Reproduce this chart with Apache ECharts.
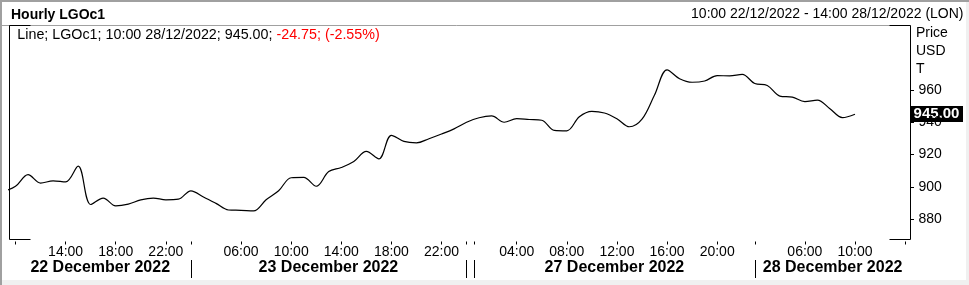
<!DOCTYPE html>
<html><head><meta charset="utf-8">
<script src="https://cdn.jsdelivr.net/npm/echarts@6/dist/echarts.min.js"></script>
<style>html,body{margin:0;padding:0;background:#fff;overflow:hidden}#c{width:969px;height:285px}</style>
</head><body><div id="c"></div>
<script>
// ---- data (slot = hourly bar index, 0 = 10:00 22/12/2022) ----
const slots = [-1,0,1,2,3,4,5,6,7,8,9,10,11,12,13,14,15,16,17,18,19,20,21,22,23,24,25,26,27,28,29,30,31,32,33,34,35,36,37,38,39,40,41,42,43,44,45,46,47,48,49,50,51,52,53,54,55,56,57,58,59,60,61,62,63,64,65,66,67];
const prices = [896.9,900.3,907.5,902.3,903.7,903.0,912.8,889.0,893.0,888.1,889.2,891.9,893.0,891.9,892.3,897.5,893.7,889.7,885.6,885.4,885.0,891.9,897.5,905.6,905.8,900.3,909.4,911.9,915.6,921.9,917.3,931.9,928.1,927.2,929.8,932.7,935.9,940.0,942.8,943.9,940.0,942.2,941.7,941.25,935.0,934.7,943.4,946.75,945.75,942.2,937.2,941.9,956.9,972.5,967.0,964.8,965.6,968.9,968.8,969.7,964.0,962.8,956.25,955.6,952.8,953.75,948.4,942.9,945.0];
const hourTickSlots = [0,4,8,12,14,18,22,26,30,34,35.95,36.6,40,44,48,52,56,59,63,67,71];
const hourLabelSlots = [4,8,12,18,22,26,30,34,40,44,48,52,56,63,67];
const hourLabels = ['14:00','18:00','22:00','06:00','10:00','14:00','18:00','22:00','04:00','08:00','12:00','16:00','20:00','06:00','10:00'];
const dayBoundarySlots = [14,35.95,36.6,59];
const dayLabels = ['22 December 2022','23 December 2022','27 December 2022','28 December 2022'];
const priceTicks = [880,900,920,940,960];
const lastPrice = 945.00;
const titleText = 'Hourly LGOc1';
const rangeText = '10:00 22/12/2022 - 14:00 28/12/2022 (LON)';
const legendBlack = 'Line; LGOc1; 10:00 28/12/2022; 945.00; ';
const legendRed = '-24.75; (-2.55%)';
const unitLabels = ['Price','USD','T'];

// ---- chart ----
const F = '"Liberation Sans", Arial, sans-serif';
const xMin = -0.479, xMax = 71.43;
const yMin = 867.29, yMax = 1000;
const chart = echarts.init(document.getElementById('c'), null, {renderer:'canvas'});
chart.setOption({
  animation:false,
  backgroundColor:'#ffffff',
  grid:{left:9.5, right:58.5, top:25.5, bottom:45.5},
  xAxis:{
    type:'value', min:xMin, max:xMax, offset:2,
    axisLine:{show:false, onZero:false}, splitLine:{show:false},
    axisTick:{show:true, customValues:hourTickSlots, length:3, lineStyle:{color:'#000', width:1}},
    axisLabel:{show:true, customValues:hourLabelSlots, margin:4, color:'#000', fontSize:14, fontFamily:F,
      formatter:function(v){const i=hourLabelSlots.indexOf(v);return i>=0?hourLabels[i]:'';}}
  },
  yAxis:{
    type:'value', position:'right', min:yMin, max:yMax,
    axisLine:{show:false, onZero:false}, splitLine:{show:false},
    axisTick:{show:true, customValues:priceTicks, length:3.5, lineStyle:{color:'#000'}},
    axisLabel:{show:true, customValues:priceTicks, margin:8, color:'#000', fontSize:14, fontFamily:F}
  },
  series:[{
    type:'line', data:slots.map((s,i)=>[s,prices[i]]), showSymbol:false, smooth:0.35,
    lineStyle:{color:'#000', width:1.2}, clip:true
  }]
});

const px = v => chart.convertToPixel({xAxisIndex:0}, v);
const py = v => chart.convertToPixel({yAxisIndex:0}, v);
const L = 9.5, R = 910.5, T = 25.5, B = 239.5;
const g = [];
function line(x1,y1,x2,y2,color,w){g.push({type:'line',silent:true,shape:{x1,y1,x2,y2},style:{stroke:color,lineWidth:w||1}});}
// outer frame
g.push({type:'rect',silent:true,shape:{x:0,y:280,width:969,height:5},style:{fill:'#f0f0f0'}});
g.push({type:'rect',silent:true,shape:{x:966,y:0,width:3,height:285},style:{fill:'#f0f0f0'}});
line(0,1,969,1,'#a0a0a0',2);
line(1,0,1,285,'#a0a0a0',2);
// header separator
line(2,T,R,T,'#a0a0a0',1);
// plot frame
line(L,T,L,B,'#000'); line(R,T,R,B,'#000');
line(L,T,L+21,T,'#000'); line(R-21,T,R,T,'#000');
line(L,B,L+21,B,'#000'); line(R-21,B,R,B,'#000');
// texts
g.push({type:'text',silent:true,style:{x:11,y:15,text:titleText,font:'bold 14px '+F,fill:'#000',textVerticalAlign:'middle'}});
g.push({type:'text',silent:true,style:{x:963.5,y:14.5,text:rangeText,font:'14px '+F,fill:'#000',textAlign:'right',textVerticalAlign:'middle'}});
g.push({type:'text',silent:true,style:{x:17.3,y:35.5,text:'{a|'+legendBlack+'}{b|'+legendRed+'}',textVerticalAlign:'middle',
  rich:{a:{fill:'#000',font:'14.3px '+F},b:{fill:'#ff0000',font:'14.3px '+F}}}});
const unitY=[33.5,51.5,69.5];
unitLabels.forEach((t,i)=>g.push({type:'text',silent:true,style:{x:916,y:unitY[i],text:t,font:'14px '+F,fill:'#000',textVerticalAlign:'middle'}}));
// last price box
const ly = Math.round(py(lastPrice));
g.push({type:'rect',silent:true,shape:{x:910.5,y:ly-8,width:52.5,height:16},style:{fill:'#000'}});
g.push({type:'text',silent:true,style:{x:936.5,y:ly,text:lastPrice.toFixed(2),font:'bold 15px '+F,fill:'#fff',textAlign:'center',textVerticalAlign:'middle'}});
// day separators and labels
const bpx = dayBoundarySlots.map(s=>Math.round(px(s))+0.5);
bpx.forEach(x=>line(x,260,x,278,'#000'));
const spans = [[xMin,dayBoundarySlots[0]],[dayBoundarySlots[0],dayBoundarySlots[1]],[dayBoundarySlots[2],dayBoundarySlots[3]],[dayBoundarySlots[3],xMax]];
spans.forEach((sp,i)=>{
  const cx=(px(sp[0])+px(sp[1]))/2;
  g.push({type:'text',silent:true,style:{x:cx,y:268,text:dayLabels[i],font:'bold 16px '+F,fill:'#000',textAlign:'center',textVerticalAlign:'middle'}});
});
chart.setOption({graphic:{elements:g}});
</script></body></html>
